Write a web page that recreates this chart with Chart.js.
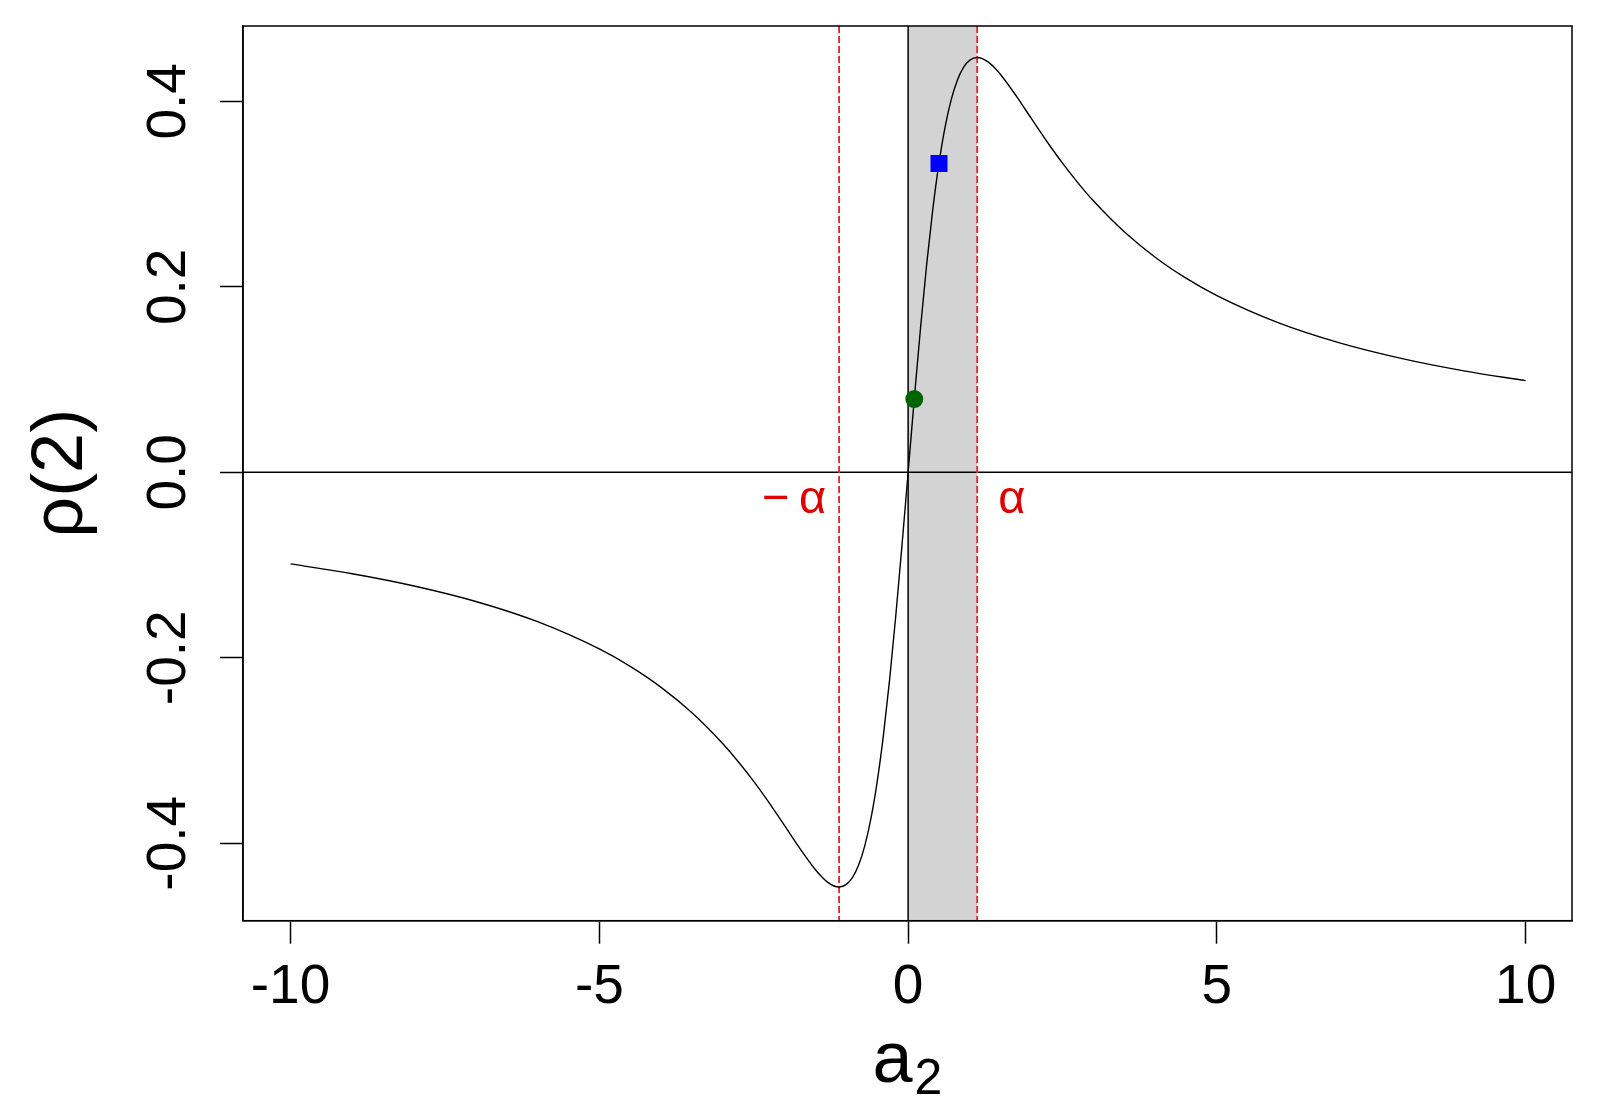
<!DOCTYPE html>
<html><head><meta charset="utf-8">
<script src="https://cdn.jsdelivr.net/npm/chart.js@4.4.1/dist/chart.umd.min.js"></script>
<style>html,body{margin:0;padding:0;background:#fff;overflow:hidden}#wrap{width:1601px;height:1113px}</style>
</head><body><div id="wrap"><canvas id="c" width="1601" height="1113"></canvas></div>
<script>
// ---- data ----
const xTicks = [-10, -5, 0, 5, 10];
const xTickLabels = ['-10', '-5', '0', '5', '10'];
const yTicks = [-0.4, -0.2, 0, 0.2, 0.4];
const yTickLabels = ['-0.4', '-0.2', '0.0', '0.2', '0.4'];
const xLimits = [-10.77, 10.75];
const yLimits = [-0.4835, 0.4812];

const a2 = [-10, -9, -8, -7, -6, -5, -4.5, -4, -3.5, -3, -2.75, -2.5, -2.25, -2, -1.75, -1.5, -1.4, -1.3, -1.2, -1.118, -1, -0.9, -0.8, -0.7, -0.6, -0.5, -0.4, -0.3, -0.2, -0.1,
  0, 0.1, 0.2, 0.3, 0.4, 0.5, 0.6, 0.7, 0.8, 0.9, 1, 1.118, 1.2, 1.3, 1.4, 1.5, 1.75, 2, 2.25, 2.5, 2.75, 3, 3.5, 4, 4.5, 5, 6, 7, 8, 9, 10];
const rho2 = [-0.0988, -0.1094, -0.1226, -0.1393, -0.1611, -0.1905, -0.2093, -0.2319, -0.2593, -0.2927, -0.3121, -0.3333, -0.3564, -0.3810, -0.4058, -0.4286, -0.4361, -0.4422, -0.4461, -0.4472, -0.4444, -0.4369, -0.4233, -0.4023, -0.3727, -0.3333, -0.2837, -0.2239, -0.1550, -0.0794,
  0, 0.0794, 0.1550, 0.2239, 0.2837, 0.3333, 0.3727, 0.4023, 0.4233, 0.4369, 0.4444, 0.4472, 0.4461, 0.4422, 0.4361, 0.4286, 0.4058, 0.3810, 0.3564, 0.3333, 0.3121, 0.2927, 0.2593, 0.2319, 0.2093, 0.1905, 0.1611, 0.1393, 0.1226, 0.1094, 0.0988];

const alphaValue = 1.118;
const shadeRange = [0, 1.118];
const greenPoint = [0.1, 0.079];
const bluePoint = [0.5, 0.333];
const alphaLabels = ['\u2212\u2009\u03B1', '\u03B1'];
const xTitleMain = 'a';
const xTitleSub = '2';
const yTitle = '\u03C1(2)';

// ---- chart ----
const FONT = "'Liberation Sans', Arial, sans-serif";

const decorPlugin = {
  id: 'decor',
  beforeDatasetsDraw(chart) {
    const {ctx, chartArea: ca, scales: {x, y}} = chart;
    ctx.save();
    ctx.beginPath(); ctx.rect(ca.left, ca.top, ca.right - ca.left, ca.bottom - ca.top); ctx.clip();
    // shaded band
    const s0 = x.getPixelForValue(shadeRange[0]), s1 = x.getPixelForValue(shadeRange[1]);
    ctx.fillStyle = '#D3D3D3';
    ctx.fillRect(s0, ca.top, s1 - s0, ca.bottom - ca.top);
    // reference lines at 0
    ctx.strokeStyle = '#000'; ctx.lineWidth = 1.5;
    const x0 = x.getPixelForValue(0), y0 = y.getPixelForValue(0);
    ctx.beginPath(); ctx.moveTo(x0, ca.top); ctx.lineTo(x0, ca.bottom); ctx.stroke();
    ctx.beginPath(); ctx.moveTo(ca.left, y0); ctx.lineTo(ca.right, y0); ctx.stroke();
    // dashed red lines at +-alpha
    ctx.strokeStyle = '#E8242A'; ctx.lineWidth = 1.8; ctx.setLineDash([7, 3]);
    [-alphaValue, alphaValue].forEach(v => {
      const px = x.getPixelForValue(v);
      ctx.beginPath(); ctx.moveTo(px, ca.top); ctx.lineTo(px, ca.bottom); ctx.stroke();
    });
    ctx.restore();
  },
  afterDatasetsDraw(chart) {
    const {ctx, scales: {x, y}} = chart;
    ctx.save();
    ctx.fillStyle = '#E00000';
    ctx.font = '47px ' + FONT;
    ctx.textBaseline = 'alphabetic';
    const by = y.getPixelForValue(0) + 41;
    ctx.textAlign = 'right';
    ctx.fillText(alphaLabels[0], x.getPixelForValue(-alphaValue) - 13, by);
    ctx.textAlign = 'left';
    ctx.fillText(alphaLabels[1], x.getPixelForValue(alphaValue) + 21, by);
    ctx.restore();
  },
  afterDraw(chart) {
    const {ctx, chartArea: ca, scales: {x}} = chart;
    ctx.save();
    ctx.strokeStyle = '#000'; ctx.lineWidth = 1.5;
    ctx.strokeRect(ca.left, ca.top, ca.right - ca.left, ca.bottom - ca.top);
    // x axis title a with subscript 2
    ctx.fillStyle = '#000';
    ctx.textBaseline = 'alphabetic'; ctx.textAlign = 'left';
    const mainFont = '72px ' + FONT, subFont = '50px ' + FONT;
    ctx.font = mainFont; const wMain = ctx.measureText(xTitleMain).width;
    ctx.font = subFont; const wSub = ctx.measureText(xTitleSub).width;
    const cx = (x.left + x.right) / 2;
    const startX = cx - (wMain + wSub + 2) / 2;
    const baseY = x.bottom - 31;
    ctx.font = mainFont; ctx.fillText(xTitleMain, startX, baseY);
    ctx.font = subFont; ctx.fillText(xTitleSub, startX + wMain + 2, baseY + 12);
    ctx.restore();
  }
};

const tickGrid = {display: true, drawOnChartArea: false, drawTicks: true, tickLength: 23, tickWidth: 1.5, tickColor: '#000'};
const axisBorder = {display: true, color: '#000', width: 1.5};

new Chart(document.getElementById('c'), {
  type: 'scatter',
  data: {
    datasets: [
      {label: 'green', data: [{x: greenPoint[0], y: greenPoint[1]}], pointStyle: 'circle', pointRadius: 9, pointBackgroundColor: '#006400', pointBorderWidth: 0, showLine: false},
      {label: 'blue', data: [{x: bluePoint[0], y: bluePoint[1]}], pointStyle: 'rect', pointRadius: 12, pointBackgroundColor: '#0000FF', pointBorderWidth: 0, showLine: false},
      {label: 'rho', data: a2.map((v, i) => ({x: v, y: rho2[i]})), showLine: true, borderColor: '#000', borderWidth: 1.4, pointRadius: 0, cubicInterpolationMode: 'monotone', fill: false}
    ]
  },
  options: {
    responsive: false,
    devicePixelRatio: 1,
    animation: false,
    layout: {padding: {top: 26, right: 29, left: 0, bottom: 0}},
    plugins: {legend: {display: false}, tooltip: {enabled: false}},
    scales: {
      x: {
        type: 'linear', position: 'bottom', min: xLimits[0], max: xLimits[1],
        afterBuildTicks(s) { s.ticks = xTicks.map(v => ({value: v})); },
        afterFit(s) { s.height = 192.3; s.paddingLeft = 0; s.paddingRight = 0; },
        grid: tickGrid, border: axisBorder,
        ticks: {color: '#000', font: {family: FONT, size: 55}, padding: 11, maxRotation: 0, minRotation: 0, autoSkip: false,
          callback: (v, i) => xTickLabels[i]},
        title: {display: false}
      },
      y: {
        type: 'linear', position: 'left', min: yLimits[0], max: yLimits[1],
        afterBuildTicks(s) { s.ticks = yTicks.map(v => ({value: v})); },
        afterFit(s) { s.width = 243; s.paddingTop = 0; s.paddingBottom = 0; },
        grid: tickGrid, border: axisBorder,
        ticks: {color: '#000', font: {family: FONT, size: 55}, padding: 3, minRotation: 90, maxRotation: 90, crossAlign: 'center', autoSkip: false,
          callback: (v, i) => yTickLabels[i]},
        title: {display: true, text: yTitle, color: '#000', font: {family: FONT, size: 72}, padding: {top: 19, bottom: 0}}
      }
    }
  },
  plugins: [decorPlugin]
});
</script>
</body></html>
